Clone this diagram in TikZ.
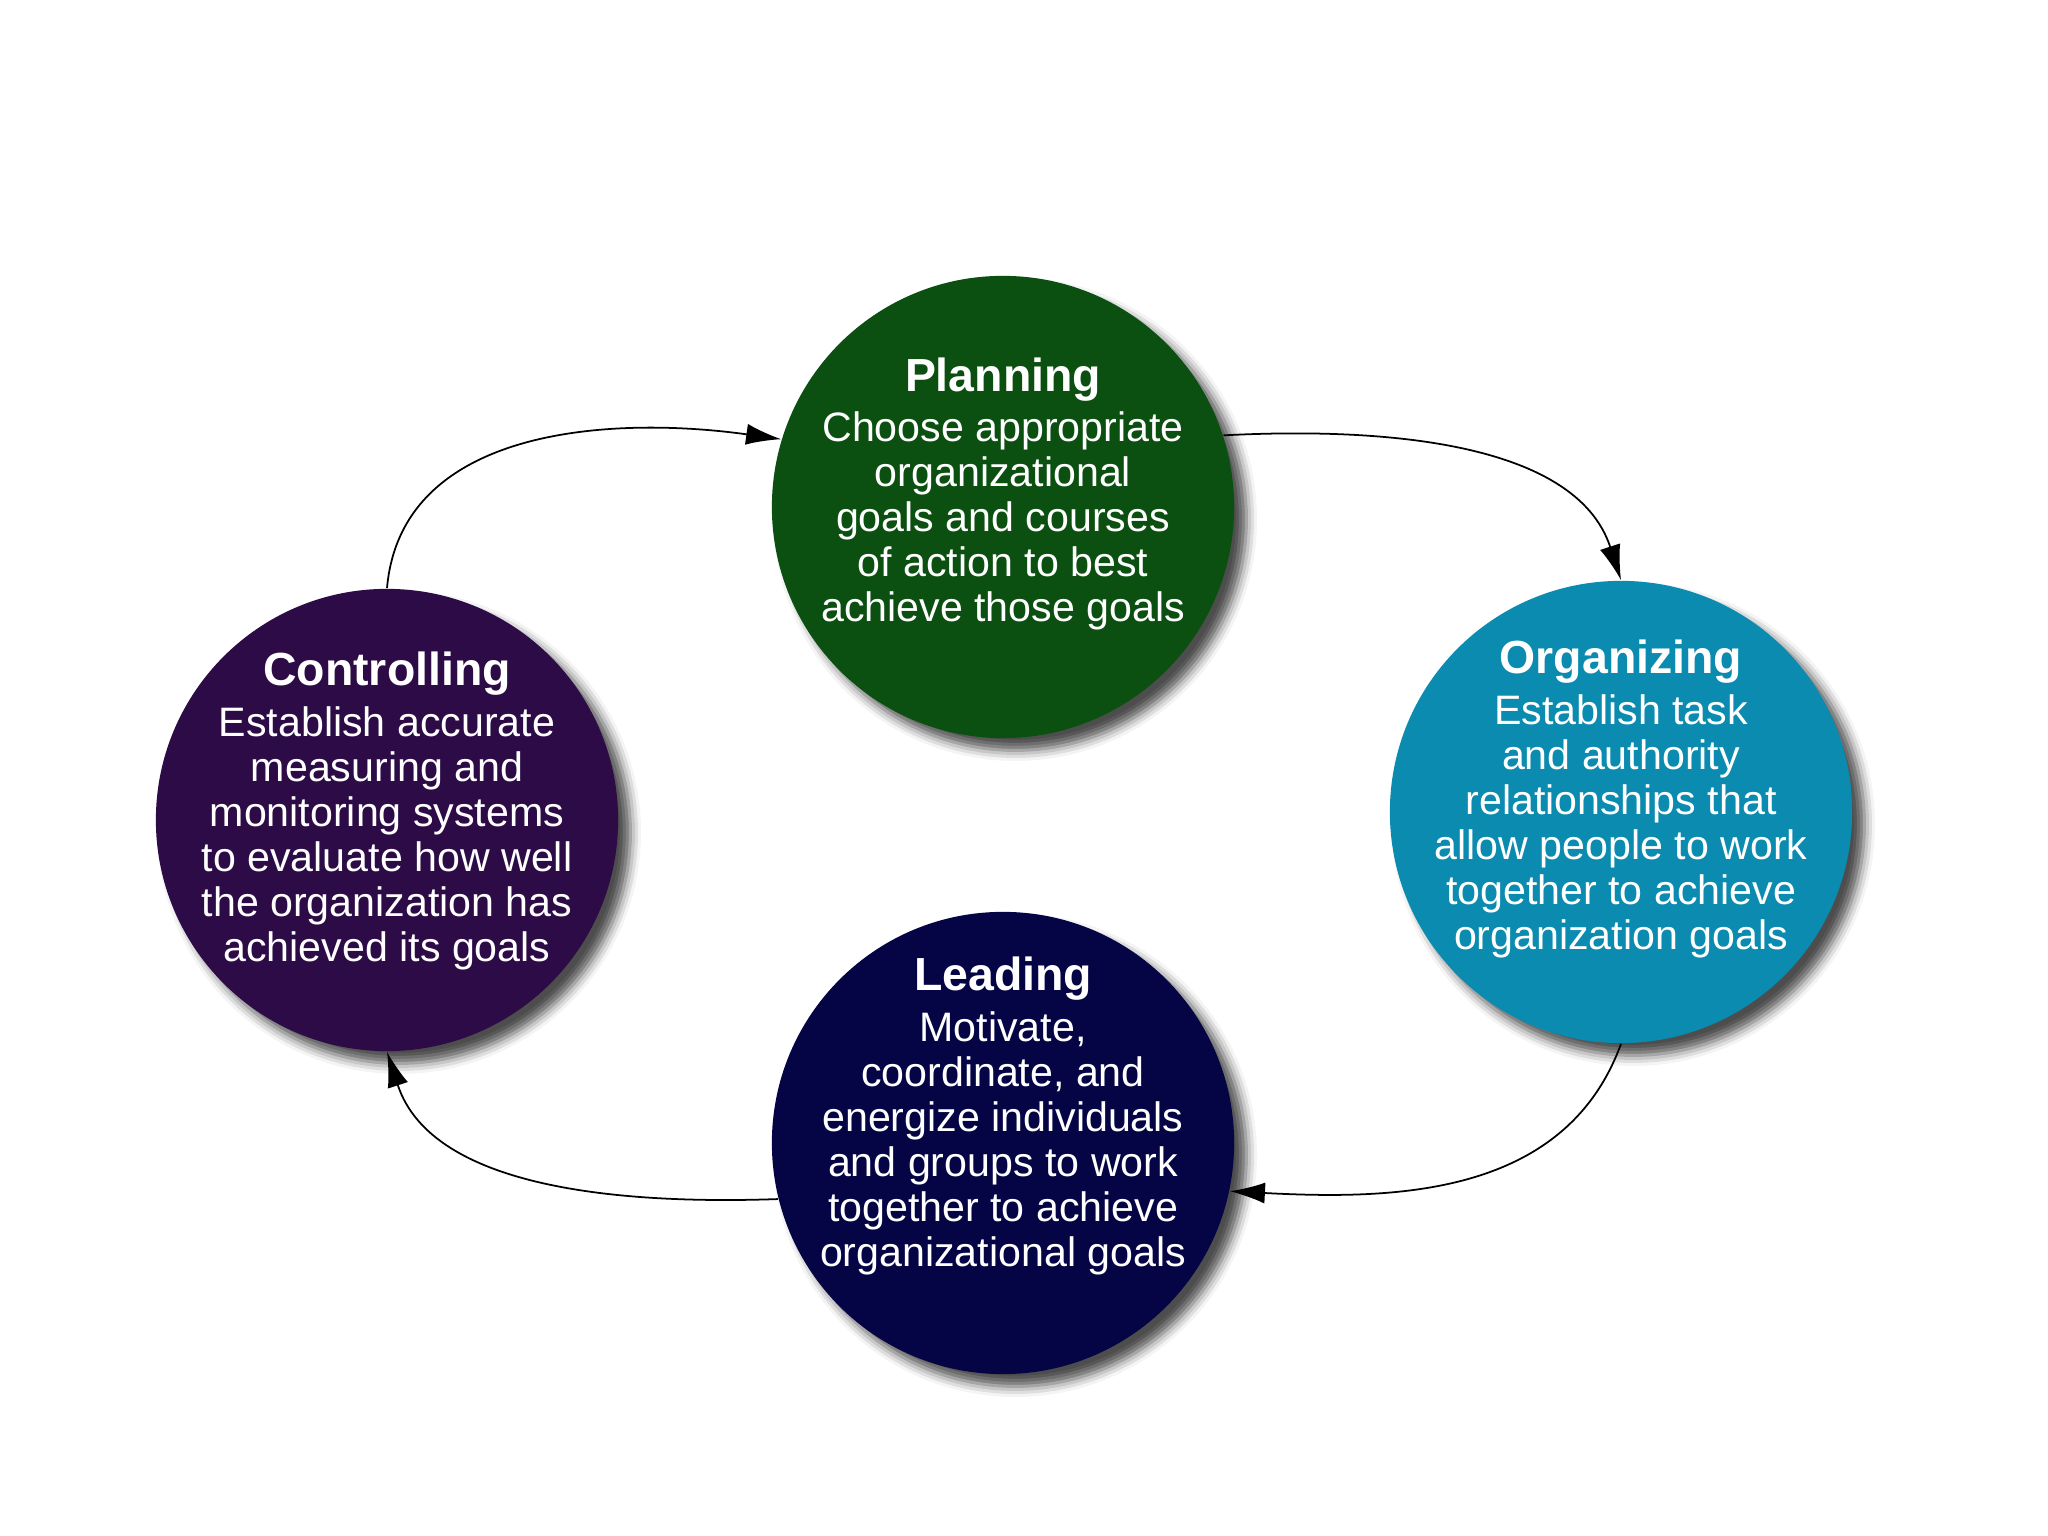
\documentclass[tikz,border=0pt]{standalone}
\usepackage{fontspec}
\setmainfont{Liberation Sans}
\usetikzlibrary{arrows.meta,shadows.blur}

\definecolor{plangreen}{HTML}{0B5010}
\definecolor{orgteal}{HTML}{0A8BAF}
\definecolor{leadnavy}{HTML}{050546}
\definecolor{ctrlpurple}{HTML}{2C0B47}

\newcommand{\phasetitle}[1]{{\fontsize{13.2}{14}\selectfont\bfseries #1}\\[1.5pt]}

\begin{document}
\begin{tikzpicture}[x=0.01cm, y=0.01cm,
      phase/.style={circle, minimum size=4.62cm, inner sep=0pt,
                    blur shadow={shadow xshift=3.5pt, shadow yshift=-3.5pt,
                                 shadow blur radius=3pt, shadow opacity=70}},
      txt/.style={text=white, align=center,
                  font=\fontsize{11.7}{12.8}\selectfont},
      arr/.style={-{Latex[length=10pt,width=6pt]}, line width=0.5pt}
    ]
      \useasboundingbox (0,0) rectangle (2048,1536);

      \node[phase, fill=plangreen] (plan) at (1003,1029) {};
      \node[phase, fill=orgteal] (org) at (1621,724) {};
      \node[phase, fill=leadnavy] (lead) at (1003,393) {};
      \node[phase, fill=ctrlpurple] (ctrl) at (387,716) {};

      \node[txt] (plantext) at (1003,1042) {\phasetitle{Planning}Choose appropriate\\organizational\\goals and courses\\of action to best\\achieve those goals};
      \node[txt] (orgtext) at (1621,737) {\phasetitle{Organizing}Establish task\\and authority\\relationships that\\allow people to work\\together to achieve\\organization goals};
      \node[txt] (leadtext) at (1003,420) {\phasetitle{Leading}Motivate,\\coordinate, and\\energize individuals\\and groups to work\\together to achieve\\organizational goals};
      \node[txt] (ctrltext) at (387,725) {\phasetitle{Controlling}Establish accurate\\measuring and\\monitoring systems\\to evaluate how well\\the organization has\\achieved its goals};

      \draw[arr] (ctrl.90) to[out=85, in=172] (plan.163);
      \draw[arr] (plan.18) to[out=3, in=108, looseness=0.9] (org.90);
      \draw[arr] (org.-90) to[out=-110, in=-3] (lead.-12);
      \draw[arr] (lead.194) to[out=182, in=-72, looseness=0.9] (ctrl.-90);
    \end{tikzpicture}
\end{document}
